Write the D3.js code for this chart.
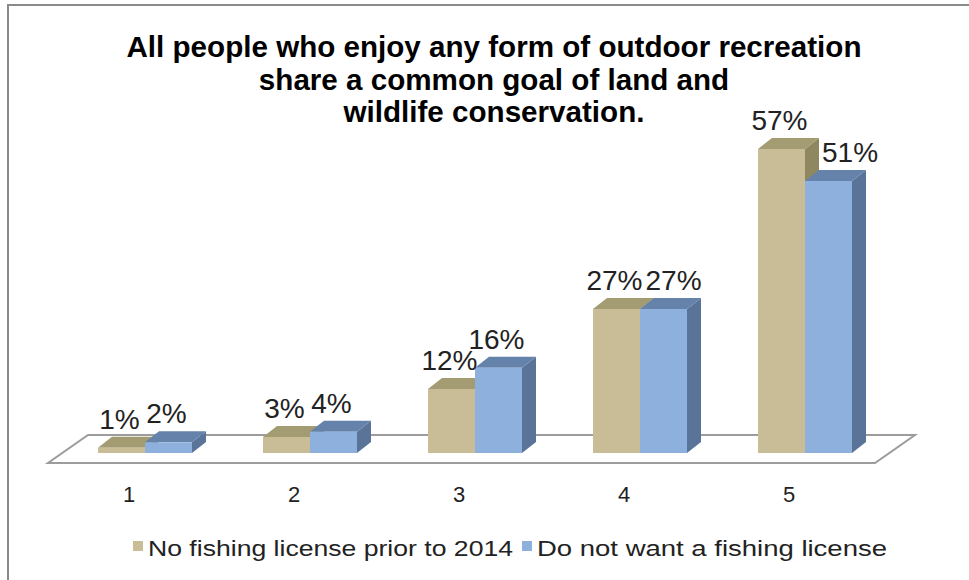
<!DOCTYPE html>
<html><head><meta charset="utf-8">
<script src="https://cdn.jsdelivr.net/npm/d3@7"></script>
<style>body{margin:0;background:#fff}svg{display:block}</style>
</head><body><svg id="c" width="969" height="580"></svg>
<script>
const categories = ["1","2","3","4","5"];
const seriesNames = ["No fishing license prior to 2014","Do not want a fishing license"];
const noLicense = [1,3,12,27,57];
const doNotWant = [2,4,16,27,51];
const titleLines = ["All people who enjoy any form of outdoor recreation","share a common goal of land and","wildlife conservation."];

const svg = d3.select("#c");
const font = "'Liberation Sans', Arial, sans-serif";
const colors = [
  {front:"#C8BD96", top:"#A39B72", side:"#8E875F"},
  {front:"#8DB0DC", top:"#6582AB", side:"#5A7399"}
];
const depth = {dx:14, dy:-11};

// frame
svg.append("rect").attr("x",8).attr("y",5).attr("width",975).attr("height",585)
  .attr("fill","#fff").attr("stroke","#8a8a8a").attr("stroke-width",2);

// title
svg.append("g").selectAll("text").data(titleLines).join("text")
  .attr("x",494).attr("y",(d,i)=>57+i*32.5).attr("text-anchor","middle")
  .attr("font-family",font).attr("font-weight","bold").attr("font-size",29.6).attr("fill","#000")
  .text(d=>d);

const x0 = d3.scaleBand().domain(categories).range([62.5,887.5]).padding(0);
const x1 = d3.scaleBand().domain([0,1]).range([35.5,129.5]).padding(0);
const y = d3.scaleLinear().domain([0,60]).range([453,133]);

// floor
const floor = d3.path();
floor.moveTo(88,435); floor.lineTo(915,435); floor.lineTo(875,463); floor.lineTo(48,463); floor.closePath();
svg.append("path").attr("d",floor.toString()).attr("fill","#fff").attr("stroke","#9c9c9c").attr("stroke-width",2);

const data = categories.map((c,i)=>({c, vals:[noLicense[i], doNotWant[i]]}));
const bars = [];
data.forEach(d=>d.vals.forEach((v,s)=>bars.push({c:d.c,s,v})));

const g = svg.append("g");
bars.forEach(b=>{
  const xl = x0(b.c)+x1(b.s), w = x1.bandwidth();
  const yt = y(b.v), yb = y(0);
  const col = colors[b.s];
  const gg = g.append("g");
  gg.append("path").attr("d",`M${xl+w},${yb}L${xl+w+depth.dx},${yb+depth.dy}L${xl+w+depth.dx},${yt+depth.dy}L${xl+w},${yt}Z`).attr("fill",col.side);
  gg.append("path").attr("d",`M${xl},${yt}L${xl+depth.dx},${yt+depth.dy}L${xl+w+depth.dx},${yt+depth.dy}L${xl+w},${yt}Z`).attr("fill",col.top);
  gg.append("rect").attr("x",xl).attr("y",yt).attr("width",w).attr("height",yb-yt).attr("fill",col.front);
});

// data labels with simple overlap avoidance (pushed right like Excel)
const lg = svg.append("g");
data.forEach(d=>{
  let prevBox = null, prevBar = null;
  d.vals.forEach((v,s)=>{
    const xl = x0(d.c)+x1(s), w = x1.bandwidth();
    const t = lg.append("text").attr("text-anchor","middle").attr("font-family",font)
      .attr("font-size",28).attr("fill","#222").text(v+"%");
    let cx = xl + w/2 - 2;
    const by = y(v)+depth.dy-8;
    t.attr("x",cx).attr("y",by);
    const bb = t.node().getBBox();
    const top = by-20, bottom = by;
    let left = cx - bb.width/2;
    if (prevBox && top < prevBox.bottom && bottom > prevBox.top && left < prevBox.right+3) left = prevBox.right+3;
    if (prevBar && bottom > prevBar.top && left < prevBar.right+3) left = prevBar.right+3;
    cx = left + bb.width/2;
    t.attr("x",cx);
    prevBox = {top, bottom, right:left+bb.width};
    prevBar = {top:y(v)+depth.dy, right:xl+w+depth.dx};
  });
});

// category labels
svg.append("g").selectAll("text").data(categories).join("text")
  .attr("x",c=>x0(c)+x0.bandwidth()/2-16).attr("y",502)
  .attr("text-anchor","middle").attr("font-family",font).attr("font-size",22).attr("fill","#222")
  .text(c=>c);

// legend
const leg = svg.append("g");
const legX = [133,522];
seriesNames.forEach((n,i)=>{
  leg.append("rect").attr("x",legX[i]).attr("y",541).attr("width",10).attr("height",10).attr("fill",colors[i].front);
  leg.append("text").attr("x",legX[i]+15).attr("y",556).attr("font-family",font).attr("font-size",22).attr("fill","#222")
    .attr("textLength", i===0?365:350).attr("lengthAdjust","spacingAndGlyphs").text(n);
});
</script></body></html>
